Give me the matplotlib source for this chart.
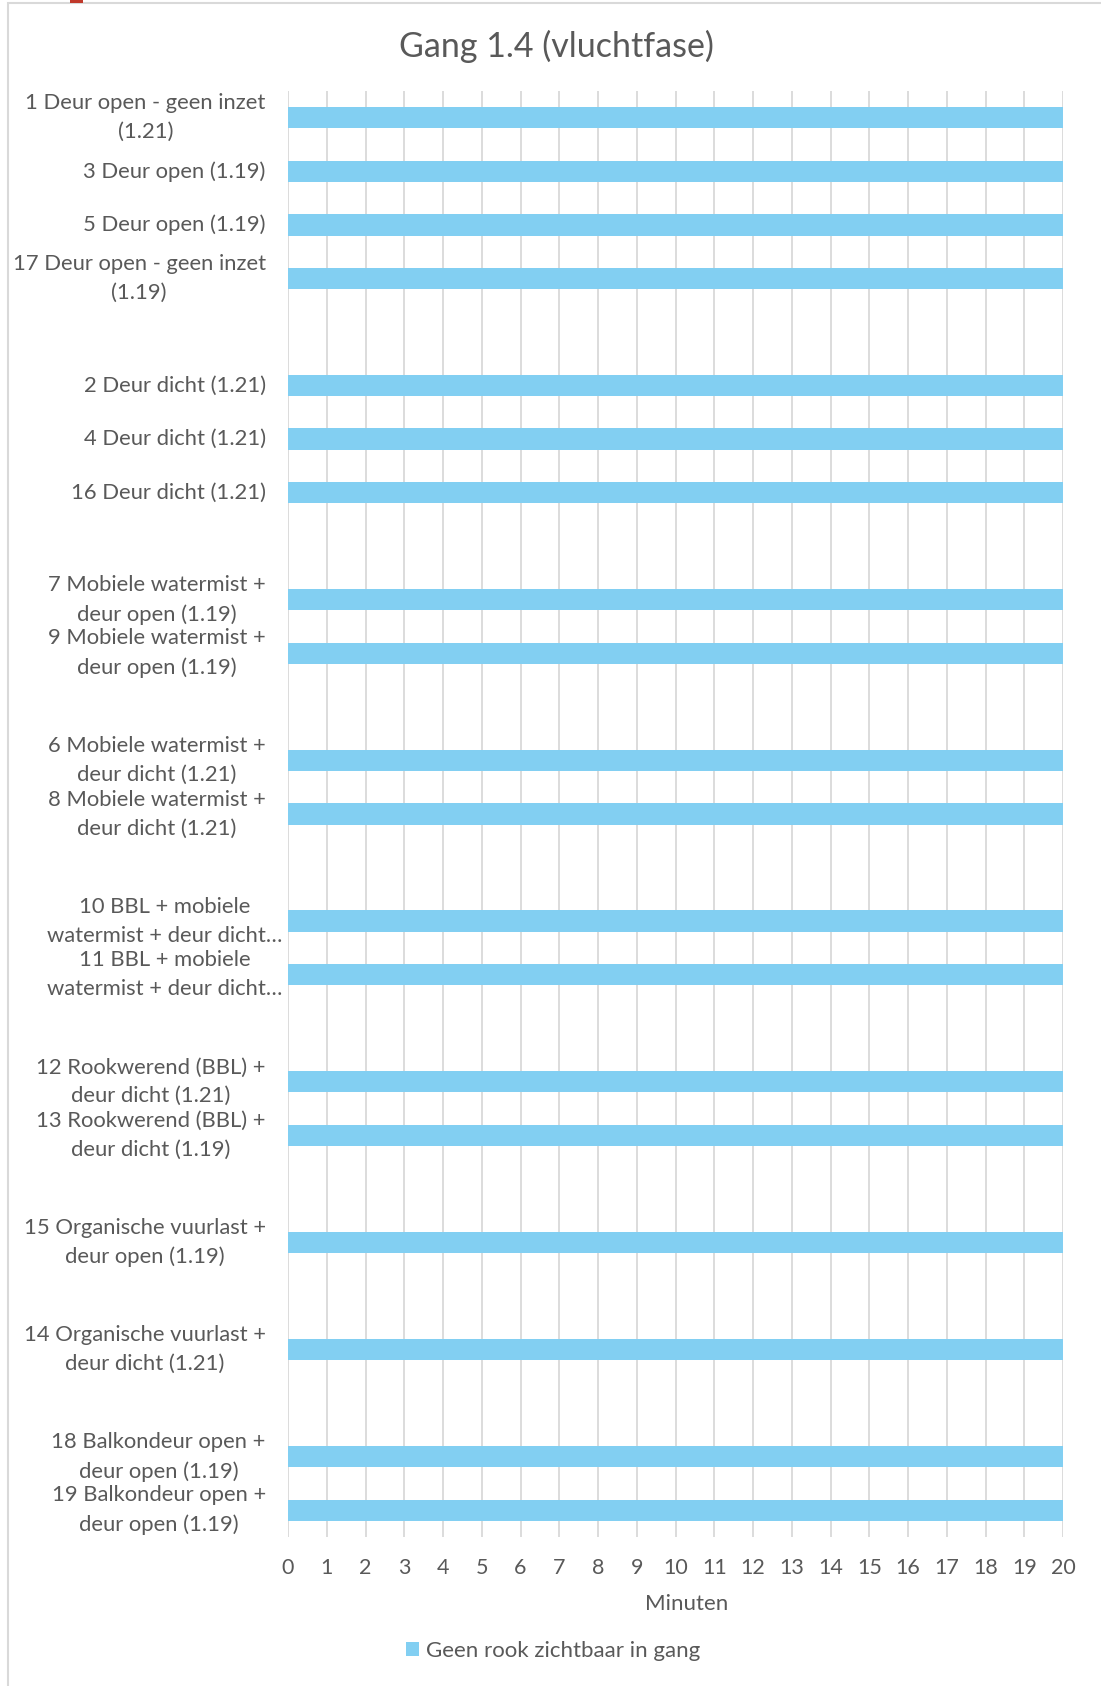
import matplotlib
matplotlib.use("Agg")
import matplotlib.pyplot as plt
from matplotlib.patches import Rectangle
from matplotlib.transforms import ScaledTranslation

plt.rcParams['font.family'] = ['Lato', 'DejaVu Sans']

categories = [
    "1 Deur open - geen inzet\n(1.21)",
    "3 Deur open (1.19)",
    "5 Deur open (1.19)",
    "17 Deur open - geen inzet\n(1.19)",
    "",
    "2 Deur dicht (1.21)",
    "4 Deur dicht (1.21)",
    "16 Deur dicht (1.21)",
    "",
    "7 Mobiele watermist +\ndeur open (1.19)",
    "9 Mobiele watermist +\ndeur open (1.19)",
    "",
    "6 Mobiele watermist +\ndeur dicht (1.21)",
    "8 Mobiele watermist +\ndeur dicht (1.21)",
    "",
    "10 BBL + mobiele\nwatermist + deur dicht…",
    "11 BBL + mobiele\nwatermist + deur dicht…",
    "",
    "12 Rookwerend (BBL) +\ndeur dicht (1.21)",
    "13 Rookwerend (BBL) +\ndeur dicht (1.19)",
    "",
    "15 Organische vuurlast +\ndeur open (1.19)",
    "",
    "14 Organische vuurlast +\ndeur dicht (1.21)",
    "",
    "18 Balkondeur open +\ndeur open (1.19)",
    "19 Balkondeur open +\ndeur open (1.19)",
]
values = [20, 20, 20, 20, 0, 20, 20, 20, 0, 20, 20, 0, 20, 20, 0,
          20, 20, 0, 20, 20, 0, 20, 0, 20, 0, 20, 20]
x_ticks = list(range(0, 21))
series_name = "Geen rook zichtbaar in gang"
title = "Gang 1.4 (vluchtfase)"
x_label = "Minuten"

W, H = 1101, 1686
fig = plt.figure(figsize=(W / 100, H / 100), dpi=100)
text_color = "#595959"
bar_color = "#82CFF2"
grid_color = "#D9D9D9"

# chart frame
fig.patches.append(Rectangle((8 / W, -0.01), 1.2, 1 - 3 / H + 0.01,
                             transform=fig.transFigure, fill=False,
                             edgecolor="#D9D9D9", linewidth=1.5))
fig.patches.append(Rectangle((70 / W, 1 - 2.5 / H), 13 / W, 3 / H,
                             transform=fig.transFigure, facecolor="#C0392B",
                             edgecolor="none"))

left, right = 288 / W, 1063 / W
top, bottom = 1 - 91 / H, 1 - 1537 / H
ax = fig.add_axes([left, bottom, right - left, top - bottom])

ypos = list(range(len(categories)))
bars = ax.barh(ypos, values, height=0.4, color=bar_color, label=series_name, zorder=3)
ax.set_ylim(len(categories) - 0.5, -0.5)
ax.set_xlim(0, 20)
ax.set_xticks(x_ticks)
ax.set_xticklabels([str(t) for t in x_ticks], fontsize=15.5, color=text_color)
ax.set_yticks(ypos)
ax.set_yticklabels(categories, fontsize=15.8, color=text_color,
                   multialignment='center', linespacing=1.55, va='center')
ax.tick_params(axis='y', length=0, pad=16)
ax.tick_params(axis='x', length=0, pad=15)
ax.xaxis.grid(True, color=grid_color, linewidth=1.3, zorder=0)
for s in ax.spines.values():
    s.set_visible(False)

for lbl in ax.get_yticklabels():
    if "BBL + mobiele" in lbl.get_text():
        lbl.set_transform(lbl.get_transform() + ScaledTranslation(17 / 100, 0, fig.dpi_scale_trans))

ax.set_xlabel(x_label, fontsize=16, color=text_color, labelpad=12, x=0.514)
fig.text(556 / W, 1 - 46 / H, title, ha='center', va='center', fontsize=24.5, color=text_color)

leg = fig.legend(handles=[bars], labels=[series_name], loc='center',
                 bbox_to_anchor=(553 / W, 1 - 1651 / H), frameon=False,
                 fontsize=16, handlelength=0.6, handleheight=0.6, handletextpad=0.3,
                 labelcolor=text_color)

fig.savefig("out.png", dpi=100, facecolor="white")
